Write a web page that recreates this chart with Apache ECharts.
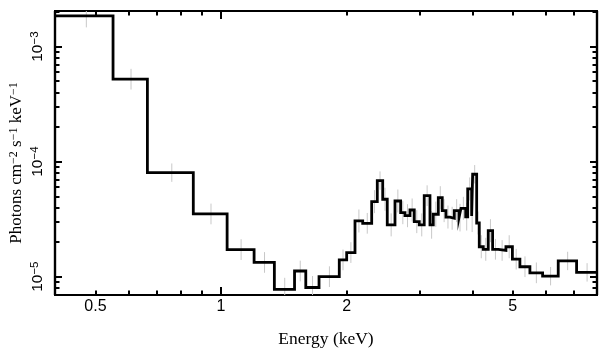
<!DOCTYPE html>
<html><head><meta charset="utf-8">
<script src="https://cdn.jsdelivr.net/npm/echarts@6/dist/echarts.min.js"></script>
<style>html,body{margin:0;padding:0;background:#fff}#c{width:609px;height:357px}</style>
</head><body><div id="c"></div>
<script>
// Bin edges (keV)
const binEdges = [0.400,0.551,0.666,0.858,1.034,1.200,1.342,1.500,1.596,1.717,
  1.920,2.000,2.094,2.185,2.296,2.368,2.440,2.502,2.611,2.694,
  2.759,2.836,2.904,2.985,3.068,3.167,3.225,3.316,3.389,3.459,
  3.536,3.622,3.717,3.758,3.857,3.900,3.986,4.008,4.098,4.157,
  4.250,4.368,4.475,4.615,4.816,4.991,5.202,5.497,5.896,6.427,
  7.112,7.96];
// Flux per bin (photons cm^-2 s^-1 keV^-1)
const flux = [1.85e-3,5.21e-4,8.02e-5,3.51e-5,1.72e-5,1.33e-5,7.77e-6,1.12e-5,8.05e-6,1.00e-5,
  1.40e-5,1.62e-5,3.05e-5,2.91e-5,4.49e-5,6.84e-5,4.71e-5,2.82e-5,4.55e-5,3.60e-5,
  3.39e-5,3.80e-5,3.01e-5,2.82e-5,5.06e-5,2.82e-5,3.49e-5,4.86e-5,3.75e-5,3.30e-5,
  3.22e-5,3.75e-5,3.26e-5,3.93e-5,3.32e-5,5.79e-5,3.37e-5,7.77e-5,2.93e-5,1.82e-5,
  1.73e-5,2.51e-5,1.73e-5,1.69e-5,1.82e-5,1.42e-5,1.22e-5,1.08e-5,1.01e-5,1.37e-5,
  1.09e-5];
// Error half-width per bin, in decades
const errDex = [0.10,0.09,0.08,0.09,0.09,0.09,0.10,0.09,0.10,0.09,
  0.09,0.09,0.10,0.09,0.10,0.08,0.10,0.10,0.10,0.10,
  0.10,0.10,0.10,0.10,0.09,0.12,0.11,0.10,0.10,0.10,
  0.10,0.10,0.12,0.10,0.12,0.10,0.14,0.08,0.10,0.10,
  0.10,0.10,0.09,0.09,0.10,0.09,0.09,0.09,0.08,0.08,
  0.08];
const xLabelTicks = [0.5, 1, 2, 5];
const xMajorTicks = [1];
const xMinorTicks = [0.5,0.6,0.7,0.8,0.9,2,3,4,5,6,7];
const yLabelTicks = [1e-5, 1e-4, 1e-3];
const yMajorTicks = [1e-5, 1e-4, 1e-3];
const yMinorTicks = [8e-6,9e-6,2e-5,3e-5,4e-5,5e-5,6e-5,7e-5,8e-5,9e-5,
  2e-4,3e-4,4e-4,5e-4,6e-4,7e-4,8e-4,9e-4,2e-3];
const xMin = 0.4, xMax = 7.96, yMin = 6.93e-6, yMax = 2.04e-3;

const stepPts = [];
for (let i = 0; i < flux.length; i++) {
  stepPts.push([binEdges[i], flux[i]]);
  stepPts.push([binEdges[i + 1], flux[i]]);
}
const errData = flux.map((v, i) => [
  (binEdges[i] + binEdges[i + 1]) / 2,
  v * Math.pow(10, -errDex[i]),
  v * Math.pow(10, errDex[i])
]);

const black = '#000';
function xAx(pos, ticks, len, opts) {
  return Object.assign({
    type: 'log', min: xMin, max: xMax, position: pos, gridIndex: 0,
    axisLine: {show: true, lineStyle: {color: black, width: 2.2}},
    axisTick: {show: true, inside: true, length: len, customValues: ticks, lineStyle: {color: black, width: 2}},
    axisLabel: {show: false},
    splitLine: {show: false}, minorTick: {show: false}, minorSplitLine: {show: false}
  }, opts || {});
}
function yAx(pos, ticks, len, opts) {
  return Object.assign({
    type: 'log', min: yMin, max: yMax, position: pos, gridIndex: 0,
    axisLine: {show: true, lineStyle: {color: black, width: 2.2}},
    axisTick: {show: true, inside: true, length: len, customValues: ticks, lineStyle: {color: black, width: 2}},
    axisLabel: {show: false},
    splitLine: {show: false}, minorTick: {show: false}, minorSplitLine: {show: false}
  }, opts || {});
}

const chart = echarts.init(document.getElementById('c'), null, {renderer: 'canvas'});
chart.setOption({
  animation: false,
  backgroundColor: '#fff',
  grid: {left: 55, right: 12, top: 11, bottom: 62, containLabel: false, outerBoundsMode: 'none'},
  xAxis: [
    xAx('bottom', xMajorTicks, 8, {
      axisLabel: {show: true, customValues: xLabelTicks, margin: 4, color: black,
        fontSize: 16, fontFamily: 'Liberation Sans', formatter: v => String(v)},
      name: 'Energy (keV)', nameLocation: 'middle', nameGap: 35,
      nameTextStyle: {color: black, fontSize: 17.5, fontFamily: 'Liberation Serif'}
    }),
    xAx('bottom', xMinorTicks, 4.5),
    xAx('top', xMajorTicks, 8),
    xAx('top', xMinorTicks, 4.5)
  ],
  yAxis: [
    yAx('left', yMajorTicks, 7, {
      axisLabel: {show: true, customValues: yLabelTicks, rotate: 90, margin: 9, color: black,
        formatter: v => '{b|10}{s|\u2212' + (-Math.round(Math.log10(v))) + '}',
        rich: {
          b: {fontSize: 15.5, fontFamily: 'Liberation Sans', color: black, lineHeight: 17},
          s: {fontSize: 11.5, fontFamily: 'Liberation Sans', color: black, lineHeight: 11, verticalAlign: 'top'}
        }},
      name: 'Photons cm{s|\u22122} s{s|\u22121} keV{s|\u22121}', nameLocation: 'middle', nameGap: 29,
      nameMoveOverlap: false,
      nameTextStyle: {color: black, fontSize: 17, fontFamily: 'Liberation Serif', lineHeight: 18,
        padding: [0, 20, 0, 0],
        rich: {s: {fontSize: 12, fontFamily: 'Liberation Serif', color: black, lineHeight: 11, verticalAlign: 'top'}}}
    }),
    yAx('left', yMinorTicks, 4.5),
    yAx('right', yMajorTicks, 7),
    yAx('right', yMinorTicks, 4.5)
  ],
  series: [
    {
      type: 'custom', xAxisIndex: 0, yAxisIndex: 0, clip: true, z: 1,
      encode: {x: 0, y: [1, 2]},
      data: errData,
      renderItem: function (params, api) {
        const p1 = api.coord([api.value(0), api.value(1)]);
        const p2 = api.coord([api.value(0), api.value(2)]);
        return {type: 'line', shape: {x1: p1[0], y1: p1[1], x2: p2[0], y2: p2[1]},
          style: {stroke: '#c8c8c8', lineWidth: 1}};
      }
    },
    {
      type: 'line', xAxisIndex: 0, yAxisIndex: 0, data: stepPts, symbol: 'none', showSymbol: false,
      clip: true, z: 3, lineStyle: {color: black, width: 2.8, join: 'miter', cap: 'butt'}
    }
  ]
});
</script></body></html>
